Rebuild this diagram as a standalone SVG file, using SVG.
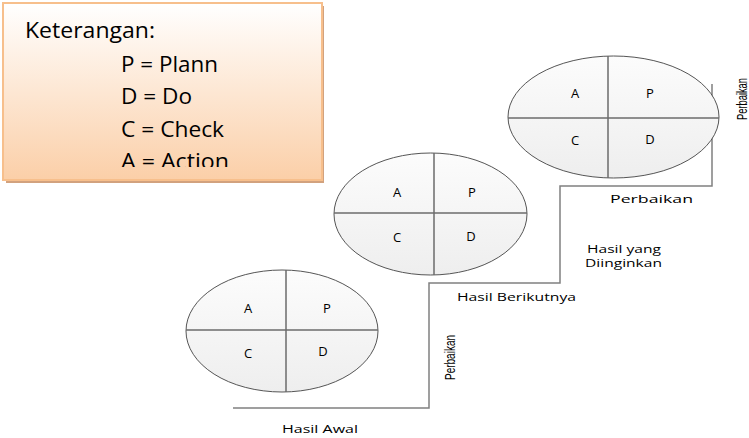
<svg xmlns="http://www.w3.org/2000/svg" width="749" height="438" viewBox="0 0 749 438">
<style>
.leg{font-family:"Open Sans","Liberation Sans",sans-serif;font-size:21px;fill:#000}
.q{font-family:"Open Sans","DejaVu Sans",sans-serif;font-size:13px;fill:#000;text-anchor:middle}
.lbl{font-family:"Open Sans","DejaVu Sans",sans-serif;font-size:11.5px;fill:#000}
.vl{font-family:"Liberation Sans Narrow","Liberation Sans",sans-serif;font-size:14px;fill:#000}
.ell{fill:url(#eg);stroke:#555;stroke-width:1}
.div{stroke:#6b6b6b;stroke-width:1.5;fill:none}
.step{stroke:#808080;stroke-width:1.5;fill:none}
</style>
<defs>
<linearGradient id="bg" x1="0" y1="0" x2="0" y2="1">
<stop offset="0" stop-color="#ffffff"/>
<stop offset="1" stop-color="#fbcfa8"/>
</linearGradient>
<linearGradient id="eg" x1="0" y1="0" x2="0" y2="1">
<stop offset="0" stop-color="#fcfcfc"/>
<stop offset="1" stop-color="#eeeeee"/>
</linearGradient>
<clipPath id="clip"><rect x="4" y="4" width="318" height="163"/></clipPath>
</defs>

<g id="legend">
<rect x="6" y="6" width="318" height="177" fill="#d2a27e"/>
<rect x="3" y="3" width="319" height="177" fill="url(#bg)" stroke="#f7bf8c" stroke-width="2"/>
<g clip-path="url(#clip)">
<text class="leg" x="25" y="38" textLength="130" lengthAdjust="spacingAndGlyphs">Keterangan:</text>
<text class="leg" x="121" y="72" textLength="97" lengthAdjust="spacingAndGlyphs">P = Plann</text>
<text class="leg" x="121" y="104" textLength="71" lengthAdjust="spacingAndGlyphs">D = Do</text>
<text class="leg" x="121" y="137" textLength="103" lengthAdjust="spacingAndGlyphs">C = Check</text>
<text class="leg" x="121" y="169" textLength="108" lengthAdjust="spacingAndGlyphs">A = Action</text>
</g>
</g>

<g id="connectors">
<polyline class="step" points="233,408 429,408 429,283 560,283 560,186 712,186 712,84"/>
</g>

<g id="pdca1">
<ellipse class="ell" cx="282" cy="331" rx="96" ry="61"/>
<line class="div" x1="186" y1="330" x2="378" y2="330"/>
<line class="div" x1="286" y1="270" x2="286" y2="392"/>
<text class="q" x="248" y="313">A</text>
<text class="q" x="327" y="313">P</text>
<text class="q" x="248" y="358">C</text>
<text class="q" x="323" y="356">D</text>
</g>

<g id="pdca2">
<ellipse class="ell" cx="430.5" cy="214" rx="96.5" ry="61"/>
<line class="div" x1="334" y1="213" x2="527" y2="213"/>
<line class="div" x1="434" y1="153" x2="434" y2="275"/>
<text class="q" x="397" y="197">A</text>
<text class="q" x="472" y="197">P</text>
<text class="q" x="397" y="242">C</text>
<text class="q" x="471" y="241">D</text>
</g>

<g id="pdca3">
<ellipse class="ell" cx="613.5" cy="117" rx="105.5" ry="61"/>
<line class="div" x1="508" y1="118" x2="719" y2="118"/>
<line class="div" x1="608" y1="56" x2="608" y2="178"/>
<text class="q" x="575" y="98">A</text>
<text class="q" x="650" y="98">P</text>
<text class="q" x="575" y="145">C</text>
<text class="q" x="650" y="144">D</text>
</g>

<g id="labels">
<text class="lbl" x="282" y="433" textLength="76" lengthAdjust="spacingAndGlyphs">Hasil Awal</text>
<text class="lbl" x="457" y="301" textLength="119" lengthAdjust="spacingAndGlyphs">Hasil Berikutnya</text>
<text class="lbl" x="587" y="253" textLength="74" lengthAdjust="spacingAndGlyphs">Hasil yang</text>
<text class="lbl" x="585" y="267" textLength="77" lengthAdjust="spacingAndGlyphs">Diinginkan</text>
<text class="lbl" x="610" y="203" textLength="83" lengthAdjust="spacingAndGlyphs">Perbaikan</text>
<text class="vl" transform="translate(455,380) rotate(-90)" textLength="45" lengthAdjust="spacingAndGlyphs">Perbaikan</text>
<text class="vl" transform="translate(747,120) rotate(-90)" textLength="42" lengthAdjust="spacingAndGlyphs">Perbaikan</text>
</g>
</svg>
